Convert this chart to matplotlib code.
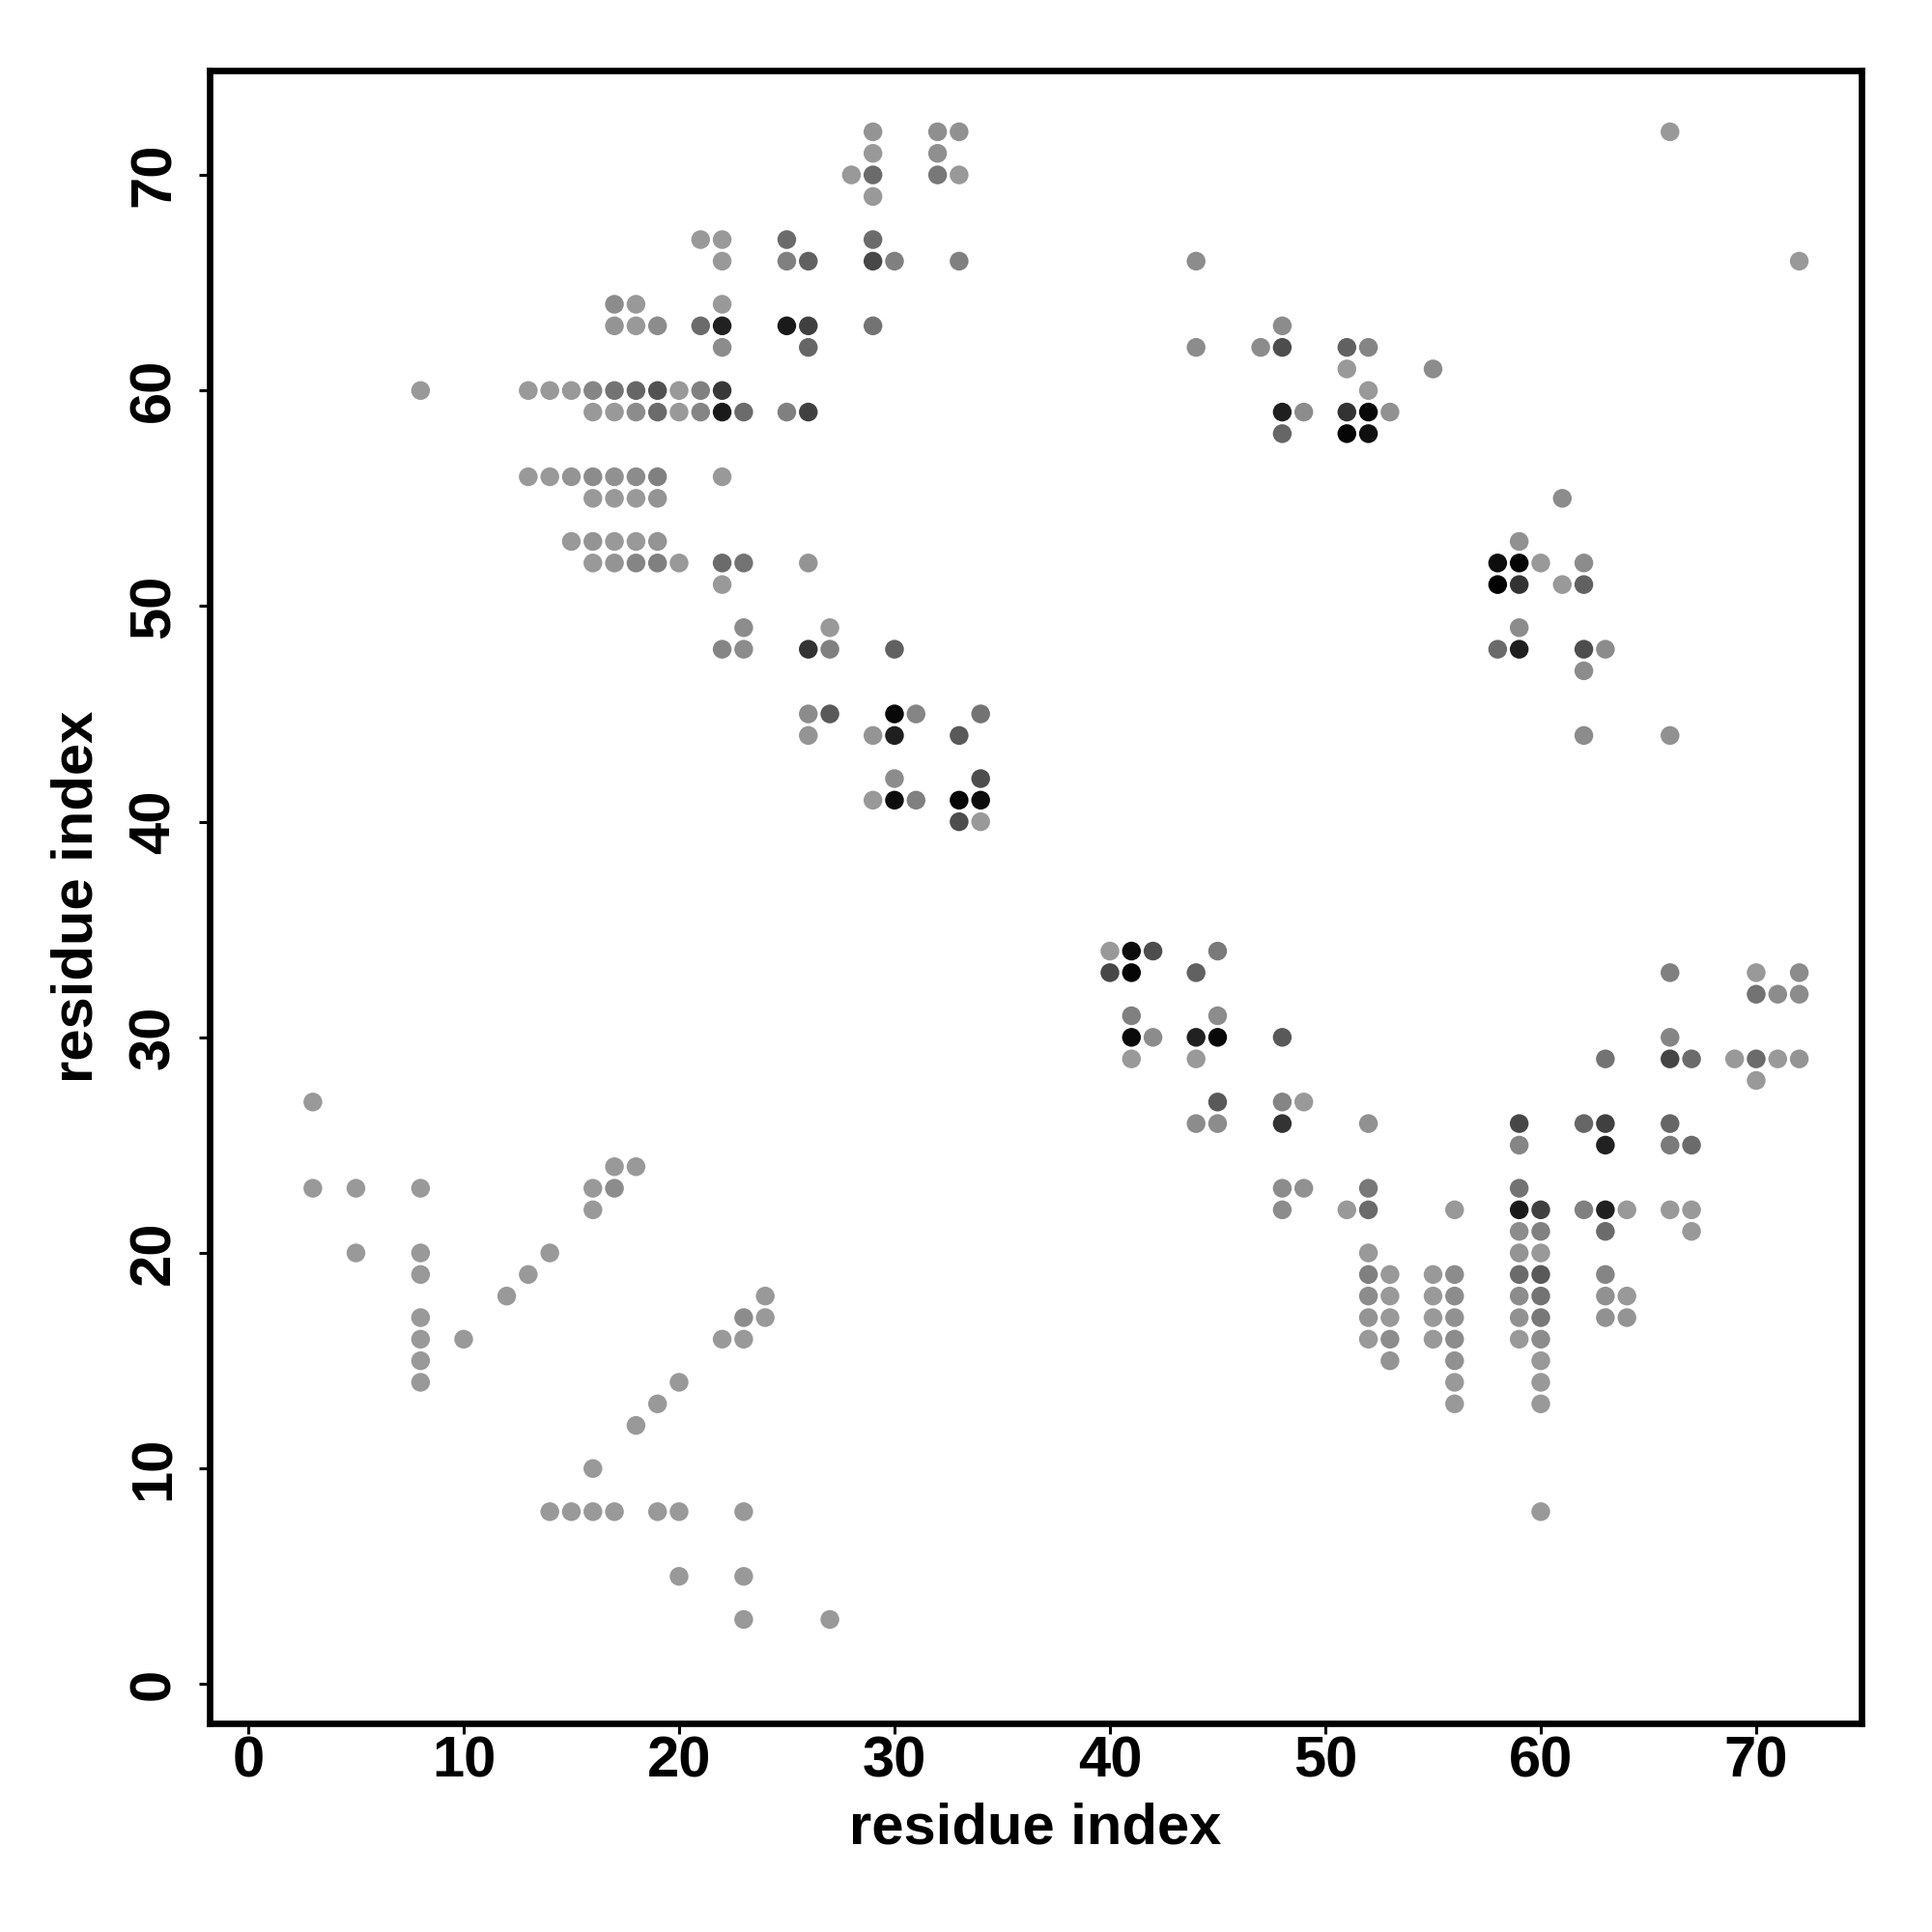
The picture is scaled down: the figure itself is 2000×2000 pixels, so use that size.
import matplotlib
matplotlib.use("Agg")
import matplotlib.pyplot as plt

plt.rcParams['font.family'] = ['Liberation Sans', 'DejaVu Sans']
plt.rcParams['font.weight'] = 'bold'

# Contact map: residue i (x), residue j (y), grey level (0 = black, 0.6 = light grey)
res_x = []
res_y = []
shade = []

def add_row(y, pts):
    for x, g in pts:
        res_x.append(x)
        res_y.append(y)
        shade.append(g)

# ---- upper-left / upper-right blocks
add_row(72, [(29, .58), (32, .56), (33, .57), (66, .6)])
add_row(71, [(29, .6), (32, .56)])
add_row(70, [(28, .6), (29, .42), (32, .47), (33, .6)])
add_row(69, [(29, .6)])
add_row(67, [(21, .6), (22, .6), (25, .42), (29, .42)])
add_row(66, [(22, .6), (25, .5), (26, .38), (29, .28), (30, .5), (33, .5), (44, .55), (72, .6)])
add_row(64, [(17, .55), (18, .6), (22, .6)])
add_row(63, [(17, .58), (18, .6), (19, .55), (21, .42), (22, .13), (25, .1), (26, .25), (29, .45), (48, .55)])
add_row(62, [(22, .55), (26, .4), (44, .55), (47, .55), (48, .3), (51, .38), (52, .52)])
add_row(61, [(51, .6), (55, .55)])
add_row(60, [(8, .6), (13, .6), (14, .6), (15, .6), (16, .52), (17, .45), (18, .4), (19, .32),
             (20, .6), (21, .5), (22, .22), (52, .6)])
add_row(59, [(16, .6), (17, .6), (18, .55), (19, .42), (20, .6), (21, .52), (22, .1), (23, .42),
             (25, .5), (26, .25), (48, .12), (49, .55), (51, .2), (52, .03), (53, .57)])
add_row(58, [(48, .4), (51, .02), (52, .06)])
add_row(56, [(13, .6), (14, .6), (15, .58), (16, .55), (17, .57), (18, .55), (19, .5), (22, .6)])
add_row(55, [(16, .6), (17, .6), (18, .6), (19, .58), (61, .55)])
add_row(53, [(15, .6), (16, .58), (17, .6), (18, .6), (19, .58), (59, .57)])
add_row(52, [(16, .6), (17, .58), (18, .52), (19, .5), (20, .6), (22, .42), (23, .45), (26, .58),
             (58, .05), (59, .02), (60, .6), (62, .55)])
add_row(51, [(22, .6), (58, .0), (59, .2), (61, .6), (62, .38)])
add_row(49, [(23, .55), (27, .6), (59, .55)])
add_row(48, [(22, .52), (23, .55), (26, .2), (27, .5), (30, .38), (58, .42), (59, .12), (62, .3), (63, .55)])
add_row(47, [(62, .55)])
add_row(45, [(26, .55), (27, .35), (30, .03), (31, .52), (34, .45)])
add_row(44, [(26, .58), (29, .58), (30, .12), (33, .35), (62, .55), (66, .57)])
add_row(42, [(30, .55), (34, .3)])
add_row(41, [(29, .6), (30, .05), (31, .5), (33, .02), (34, .05)])
add_row(40, [(33, .3), (34, .6)])

# ---- lower-right / lower-left blocks
add_row(34, [(40, .6), (41, .05), (42, .3), (45, .48)])
add_row(33, [(40, .28), (41, .02), (44, .38), (66, .5), (70, .6), (72, .55)])
add_row(32, [(70, .45), (71, .55), (72, .55)])
add_row(31, [(41, .5), (45, .55)])
add_row(30, [(41, .04), (42, .55), (44, .13), (45, .03), (48, .35), (66, .52)])
add_row(29, [(41, .6), (44, .6), (63, .45), (66, .27), (67, .42), (69, .6), (70, .42), (71, .6), (72, .58)])
add_row(28, [(70, .6)])
add_row(27, [(3, .6), (45, .35), (48, .52), (49, .6)])
add_row(26, [(44, .55), (45, .55), (48, .2), (52, .57), (59, .28), (62, .4), (63, .25), (66, .4)])
add_row(25, [(59, .52), (63, .13), (66, .48), (67, .42)])
add_row(24, [(17, .6), (18, .6)])
add_row(23, [(3, .6), (5, .6), (8, .6), (16, .6), (17, .55), (48, .55), (49, .57), (52, .47), (59, .45)])
add_row(22, [(16, .6), (48, .55), (51, .6), (52, .42), (56, .6), (59, .1), (60, .25), (62, .5),
             (63, .13), (64, .6), (66, .6), (67, .6)])
add_row(21, [(59, .55), (60, .5), (63, .42), (67, .6)])
add_row(20, [(5, .6), (8, .6), (14, .6), (52, .6), (59, .58), (60, .6)])
add_row(19, [(8, .6), (13, .6), (52, .5), (53, .6), (55, .6), (56, .55), (59, .42), (60, .35), (63, .52)])
add_row(18, [(12, .6), (24, .6), (52, .55), (53, .6), (55, .6), (56, .55), (59, .55), (60, .45),
             (63, .57), (64, .6)])
add_row(17, [(8, .6), (23, .55), (24, .6), (52, .58), (53, .6), (55, .6), (56, .57), (59, .57),
             (60, .47), (63, .57), (64, .58)])
add_row(16, [(8, .6), (10, .6), (22, .6), (23, .6), (52, .6), (53, .55), (55, .6), (56, .55),
             (59, .6), (60, .55)])
add_row(15, [(8, .6), (53, .58), (56, .57), (60, .6)])
add_row(14, [(8, .6), (20, .6), (56, .6), (60, .6)])
add_row(13, [(19, .6), (56, .6), (60, .6)])
add_row(12, [(18, .6)])
add_row(10, [(16, .6)])
add_row(8, [(14, .6), (15, .6), (16, .6), (17, .6), (19, .6), (20, .6), (23, .6), (60, .6)])
add_row(5, [(20, .6), (23, .6)])
add_row(3, [(23, .6), (27, .6)])

x_ticks = [0, 10, 20, 30, 40, 50, 60, 70]
y_ticks = [0, 10, 20, 30, 40, 50, 60, 70]
axis_label = "residue index"

fig = plt.figure(figsize=(10, 10), dpi=200)
ax = fig.add_axes([0.1083, 0.1082, 0.855, 0.8555])

colors = [(g, g, g) for g in shade]
ax.scatter(res_x, res_y, c=colors, s=49, linewidths=0, zorder=3)

ax.set_xlim(-1.81, 74.87)
ax.set_ylim(-1.8, 74.86)
ax.set_xticks(x_ticks)
ax.set_yticks(y_ticks)
ax.set_xticklabels([str(t) for t in x_ticks], fontsize=21.5, fontweight='bold')
ax.set_yticklabels([str(t) for t in y_ticks], fontsize=21.5, fontweight='bold',
                   rotation=90, va='center')
ax.tick_params(axis='both', direction='out', length=4.0, width=1.1, color='black')
ax.tick_params(axis='x', pad=0.5)
ax.tick_params(axis='y', pad=6.5)

for sp in ax.spines.values():
    sp.set_linewidth(2.4)
    sp.set_color('black')

ax.set_xlabel(axis_label, fontsize=21.5, fontweight='bold', va='center')
ax.xaxis.set_label_coords(0.5, -0.064)
ax.set_ylabel(axis_label, fontsize=21.5, fontweight='bold', va='center')
ax.yaxis.set_label_coords(-0.0798, 0.5)

fig.savefig("out.png", dpi=200, facecolor='white')
